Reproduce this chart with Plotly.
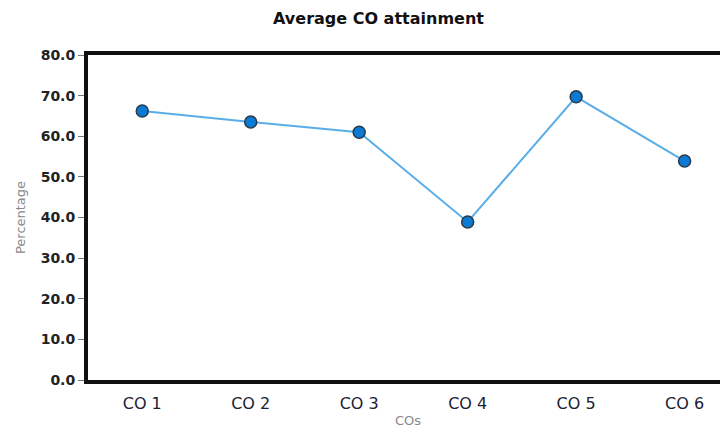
import plotly.graph_objects as go

categories = ["CO 1", "CO 2", "CO 3", "CO 4", "CO 5", "CO 6"]
values = [66.2, 63.5, 61.0, 38.9, 69.7, 53.9]
y_ticks = [0, 10, 20, 30, 40, 50, 60, 70, 80]

fig = go.Figure()
fig.add_trace(go.Scatter(
    x=list(range(len(categories))), y=values, mode="lines+markers",
    line=dict(color="#5aaee8", width=2),
    marker=dict(size=12, color="#0a7ad4", line=dict(color="#2b3a48", width=1.5)),
    showlegend=False,
))

# page has an 8px body margin: figure is 720x420, placed at (8, 8)
fig.update_layout(
    width=720, height=420,
    margin=dict(l=80, r=0, t=47, b=48),
    paper_bgcolor="white", plot_bgcolor="white",
    title=dict(text="Average CO attainment", x=370.5 / 720, xanchor="center", y=1 - 10 / 420, yanchor="middle",
               font=dict(family="DejaVu Sans", size=16, color="#111", weight="bold")),
    xaxis=dict(
        tickmode="array", tickvals=list(range(len(categories))), ticktext=categories,
        range=[-0.5, 5.4], showgrid=False, zeroline=False,
        showline=True, linecolor="#111", linewidth=4, mirror=True,
        ticks="outside", ticklen=6, tickcolor="rgba(0,0,0,0)",
        tickfont=dict(family="DejaVu Sans", size=16, color="#1b2233"),
        title=dict(text="COs", font=dict(family="DejaVu Sans", size=13, color="#888"), standoff=5),
    ),
    yaxis=dict(
        range=[0, 80], tickvals=y_ticks, tickformat=".1f",
        showgrid=False, zeroline=False,
        showline=True, linecolor="#111", linewidth=4,
        ticks="outside", ticklen=6, tickcolor="#777", tickwidth=1,
        tickfont=dict(family="DejaVu Sans", size=14, color="#222", weight="bold"),
        title=dict(text="Percentage", font=dict(family="DejaVu Sans", size=13, color="#888"), standoff=13),
    ),
)

fig.write_html("out.html")
